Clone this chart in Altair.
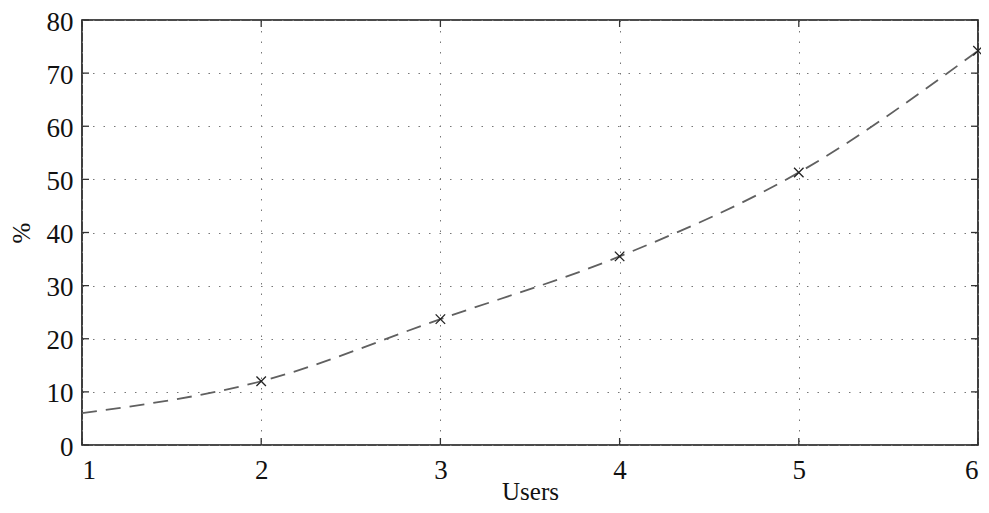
import altair as alt
import pandas as pd

# curve (dashed line) values
curve_users = [1, 2, 3, 4, 5, 6]
curve_pct = [6.0, 12.0, 23.7, 35.5, 51.3, 74.2]
# marker values
marker_users = [2, 3, 4, 5, 6]
marker_pct = [12.0, 23.7, 35.5, 51.3, 74.2]
x_ticks = [1, 2, 3, 4, 5, 6]
y_ticks = [0, 10, 20, 30, 40, 50, 60, 70, 80]

W, H = 896, 425
FONT = "Liberation Serif"

curve_df = pd.DataFrame({"Users": curve_users, "pct": curve_pct})
marker_df = pd.DataFrame({"Users": marker_users, "pct": marker_pct})
xt_df = pd.DataFrame({"Users": x_ticks})
yt_df = pd.DataFrame({"pct": y_ticks})

xscale = alt.Scale(domain=[1, 6], nice=False, zero=False)
yscale = alt.Scale(domain=[0, 80], nice=False)

xaxis = alt.Axis(values=x_ticks, title="Users", format="d", grid=True,
                 gridDash=[1.5, 9], gridColor="#777", gridWidth=1,
                 ticks=False, labelPadding=12, domain=False,
                 titleBaseline="alphabetic", titleY=54, titleFontSize=25)
yaxis = alt.Axis(values=y_ticks, title="%", format="d", grid=True,
                 gridDash=[1.5, 9], gridColor="#777", gridWidth=1,
                 ticks=False, labelPadding=9, domain=False, labelOffset=2,
                 titleBaseline="middle", titleX=-61, titleY=H / 2,
                 titleFontSize=25)

line = alt.Chart(curve_df).mark_line(
    interpolate="monotone", strokeDash=[15, 9], color="#606060", strokeWidth=1.8
).encode(
    x=alt.X("Users:Q", scale=xscale, axis=xaxis),
    y=alt.Y("pct:Q", scale=yscale, axis=yaxis),
)

points = alt.Chart(marker_df).mark_point(
    shape="M-1,-1L1,1M-1,1L1,-1", size=90, color="#222", filled=False,
    strokeWidth=1.3, opacity=1
).encode(
    x=alt.X("Users:Q", scale=xscale),
    y=alt.Y("pct:Q", scale=yscale),
)

yt_left = alt.Chart(yt_df).mark_rule(color="#333", strokeWidth=1.3).encode(
    y=alt.Y("pct:Q", scale=yscale), x=alt.value(0), x2=alt.value(7))
yt_right = alt.Chart(yt_df).mark_rule(color="#333", strokeWidth=1.3).encode(
    y=alt.Y("pct:Q", scale=yscale), x=alt.value(W - 7), x2=alt.value(W))
xt_bottom = alt.Chart(xt_df).mark_rule(color="#333", strokeWidth=1.3).encode(
    x=alt.X("Users:Q", scale=xscale), y=alt.value(H - 7), y2=alt.value(H))
xt_top = alt.Chart(xt_df).mark_rule(color="#333", strokeWidth=1.3).encode(
    x=alt.X("Users:Q", scale=xscale), y=alt.value(0), y2=alt.value(7))

chart = alt.layer(line, yt_left, yt_right, xt_bottom, xt_top, points).properties(
    width=W, height=H,
    autosize=alt.AutoSizeParams(type="none"),
    padding={"left": 74, "top": 12, "right": 3, "bottom": 60},
).configure_view(
    stroke="#111", strokeWidth=1.6
).configure_axis(
    labelFont=FONT, titleFont=FONT, labelFontSize=27, titleFontSize=25,
    labelColor="#111", titleColor="#111", titleFontWeight="normal",
)

chart.save("out.html", embed_options={"renderer": "svg", "actions": False})
